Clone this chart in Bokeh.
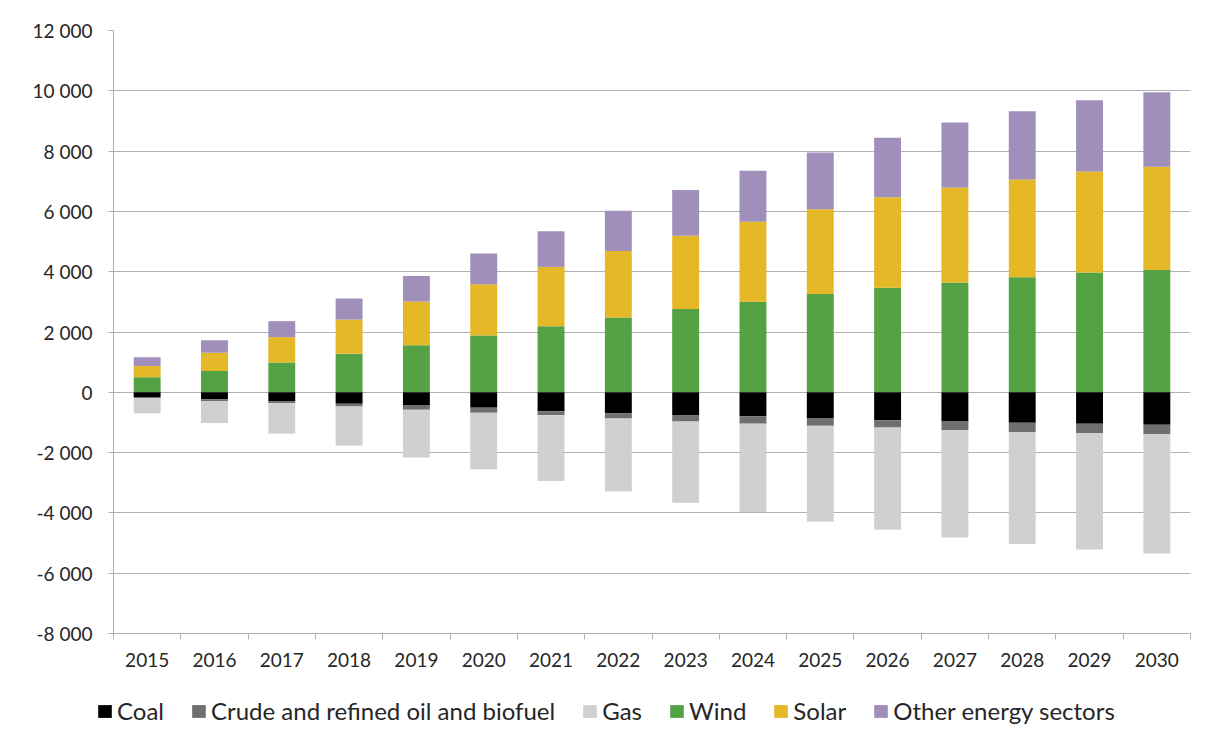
from bokeh.plotting import figure
from bokeh.layouts import column
from bokeh.models import (Range1d, FixedTicker, LinearAxis, Legend,
                          LegendItem, ColumnDataSource)
from bokeh.embed import file_html
from bokeh.resources import INLINE

years = [str(y) for y in range(2015, 2031)]
coal = [-160, -230, -290, -380, -440, -510, -630, -700, -770, -800, -870, -930, -970, -1010, -1040, -1080]
oil = [-25, -60, -70, -90, -140, -170, -130, -170, -200, -240, -240, -240, -290, -310, -310, -310]
gas = [-510, -730, -1010, -1300, -1580, -1870, -2180, -2420, -2690, -2930, -3180, -3390, -3560, -3710, -3860, -3960]
wind = [500, 710, 990, 1280, 1560, 1880, 2190, 2480, 2760, 3000, 3260, 3470, 3640, 3820, 3970, 4060]
solar = [370, 600, 840, 1130, 1450, 1700, 1970, 2210, 2430, 2660, 2810, 3000, 3150, 3240, 3350, 3420]
other = [290, 420, 530, 700, 850, 1020, 1180, 1330, 1520, 1690, 1880, 1970, 2160, 2260, 2370, 2470]
series_names = ["Coal", "Crude and refined oil and biofuel", "Gas", "Wind", "Solar", "Other energy sectors"]
y_ticks = list(range(-8000, 12001, 2000))

series_keys = ["coal", "oil", "gas", "wind", "solar", "other"]
colors = {"coal": "#000000", "oil": "#6f6f6f", "gas": "#d0d0d0",
          "wind": "#55a245", "solar": "#e4b826", "other": "#a08fbb"}

# category slots: each year occupies one unit, bar centred in its slot
xpos = [i + 0.5 for i in range(len(years))]
slot_edges = list(range(len(years) + 1))
src = ColumnDataSource(dict(x=xpos, year=years, coal=coal, oil=oil, gas=gas,
                            wind=wind, solar=solar, other=other))

FONT = "Lato"
TXT = "#262626"
GRID = "#b0b0b0"
W = 1203

p = figure(width=W, height=680, output_backend="svg", toolbar_location=None,
           x_range=Range1d(0, len(years)),
           y_range=Range1d(-8000, 12000), x_axis_location=None,
           min_border_left=113, min_border_right=13, min_border_top=30, min_border_bottom=47)
p.outline_line_color = None
p.background_fill_color = "white"
p.border_fill_color = "white"

pos = p.vbar_stack(["wind", "solar", "other"], x="x", width=0.4, source=src,
                   color=[colors["wind"], colors["solar"], colors["other"]], line_color=None)
neg = p.vbar_stack(["coal", "oil", "gas"], x="x", width=0.4, source=src,
                   color=[colors["coal"], colors["oil"], colors["gas"]], line_color=None)

# y axis
yax = p.yaxis[0]
yax.ticker = FixedTicker(ticks=y_ticks)
yax.major_label_overrides = {t: (f"{t:,}".replace(",", " ")) for t in y_ticks}
yax.axis_line_color = GRID
yax.major_tick_line_color = GRID
yax.major_tick_out = 5
yax.major_tick_in = 0
yax.minor_tick_line_color = None
yax.major_label_standoff = 16
yax.major_label_text_font = FONT
yax.major_label_text_font_size = "19px"
yax.major_label_text_color = TXT

p.ygrid.ticker = FixedTicker(ticks=y_ticks)
p.ygrid.grid_line_color = GRID
p.ygrid.grid_line_width = 1
p.xgrid.visible = False

# x axis: year labels centred under bars, tick marks (minor) between categories
xax = LinearAxis(ticker=FixedTicker(ticks=xpos, minor_ticks=slot_edges))
xax.major_label_overrides = {x: y for x, y in zip(xpos, years)}
xax.axis_line_color = GRID
xax.major_tick_line_color = None
xax.major_tick_out = 0
xax.major_tick_in = 0
xax.minor_tick_line_color = GRID
xax.minor_tick_out = 6
xax.minor_tick_in = 0
xax.major_label_standoff = 13
xax.major_label_text_font = FONT
xax.major_label_text_font_size = "19px"
xax.major_label_text_color = TXT
p.add_layout(xax, "below")

# legend strip below the chart; its proxy bars use the same data but lie outside its view
lg = figure(width=W, height=60, output_backend="svg", toolbar_location=None,
            x_range=Range1d(-200, -199), y_range=Range1d(-200000, -199999),
            min_border_left=96, min_border_top=16, min_border_right=0, min_border_bottom=0,
            x_axis_location=None, y_axis_location=None)
if "frame_align" in lg.properties():
    lg.frame_align = False
    p.frame_align = False
lg.outline_line_color = None
lg.xgrid.visible = False
lg.ygrid.visible = False
lg.background_fill_color = "white"
lg.border_fill_color = "white"
proxies = [lg.vbar(x="x", top=k, width=0.4, source=src, color=colors[k], line_color=None)
           for k in series_keys]
items = [LegendItem(label=n, renderers=[r]) for n, r in zip(series_names, proxies)]
legend = Legend(items=items, orientation="horizontal", location="top_left",
                label_text_font=FONT, label_text_font_size="24px", label_text_color=TXT,
                glyph_width=17, glyph_height=16, label_standoff=4, spacing=26,
                padding=0, margin=0, border_line_color=None, background_fill_alpha=0)
lg.add_layout(legend, "center")

layout = column(p, lg, spacing=0)
open("out.html", "w").write(file_html(layout, INLINE))
